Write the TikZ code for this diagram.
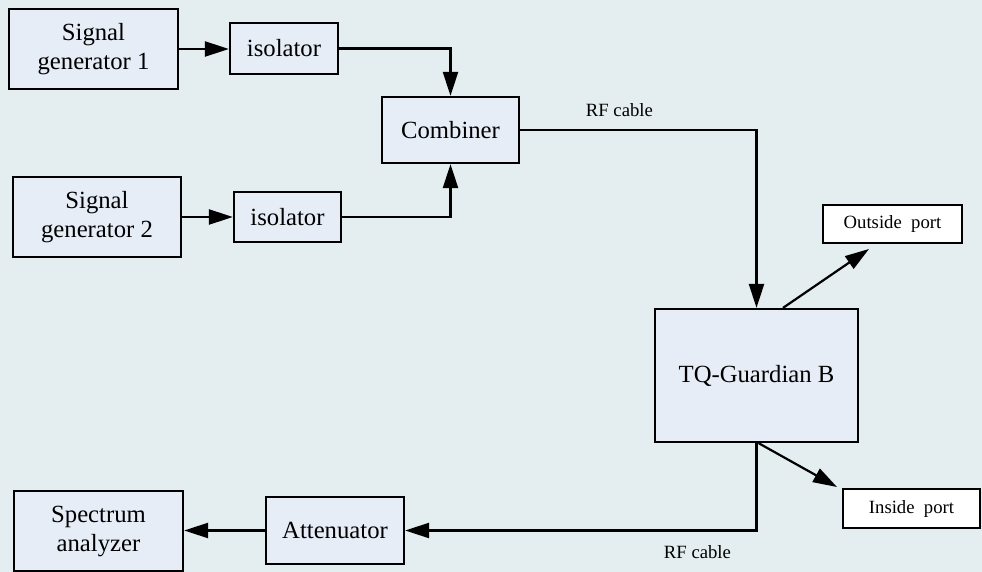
\documentclass[tikz,border=0pt]{standalone}
\usepackage{fontspec}
\setmainfont{Liberation Serif}
\newfontfamily\timesfont{Liberation Serif}
\usetikzlibrary{arrows.meta}
\definecolor{bgcol}{HTML}{E4EDF0}
\definecolor{boxcol}{HTML}{E6EDF7}

\begin{document}
\begin{tikzpicture}[x=1pt, y=-1pt]
\tikzstyle{mybox} = [draw, line width = 2.2pt, fill = boxcol, inner sep = 0pt, align = center, font = \timesfont\fontsize{24.7}{29}\selectfont]
\tikzstyle{myport} = [draw, line width = 2pt, fill = white, inner sep = 0pt, font = \timesfont\fontsize{18.7}{22}\selectfont]
\tikzstyle{mylabel} = [inner sep = 0pt, font = \timesfont\fontsize{18.7}{22}\selectfont]
\tikzset{mylink/.style={line width = 2.2pt, -{Triangle[length = 24pt, width = 15pt]}}}
\fill [bgcol] (0,0) rectangle (982,572);
\useasboundingbox (0,0) rectangle (982,572);

\node [mybox, minimum width = 169pt, minimum height = 80pt] (gen1) at (93.5,49) {Signal\\generator 1};
\node [mybox, minimum width = 108pt, minimum height = 51pt] (iso1) at (284,48.5) {isolator};
\node [mybox, minimum width = 168pt, minimum height = 80pt] (gen2) at (97,217) {Signal\\generator 2};
\node [mybox, minimum width = 107pt, minimum height = 50pt] (iso2) at (287.5,217) {isolator};
\node [mybox, minimum width = 137pt, minimum height = 66pt] (comb) at (450.5,130) {Combiner};
\node [mybox, minimum width = 203pt, minimum height = 133pt] (tq) at (756.5,375.5) {TQ-Guardian B};
\node [myport, minimum width = 139pt, minimum height = 38pt] (outp) at (892.5,224) {Outside\enspace port};
\node [myport, minimum width = 137pt, minimum height = 39pt] (inp) at (911.5,508.5) {Inside\enspace port};
\node [mybox, minimum width = 138pt, minimum height = 67pt] (att) at (335,530.5) {Attenuator};
\node [mybox, minimum width = 169pt, minimum height = 80pt] (spec) at (98.5,531) {Spectrum\\analyzer};

\draw [mylink] (gen1.east) -- (gen1.east -| iso1.west);
\draw [mylink] (gen2.east) -- (gen2.east -| iso2.west);
\draw [mylink] (iso1.east) -| (comb.north);
\draw [mylink] (iso2.east) -| (comb.south);
\draw [mylink] (comb.east) -| node [mylabel, pos = 0.21, above = 12pt] {RF cable} (tq.north);
\draw [mylink] ([xshift = 26.5pt]tq.north) -- ([xshift = -23.5pt, yshift = -5pt]outp.south);
\draw [mylink] ([xshift = 2pt]tq.south) -- ([xshift = -5pt, yshift = 1pt]inp.north west);
\draw [mylink] (tq.south) |- node [mylabel, pos = 0.584, below = 14pt] {RF cable} (att.east);
\draw [mylink] (att.west) -- (att.west -| spec.east);
\end{tikzpicture}
\end{document}
